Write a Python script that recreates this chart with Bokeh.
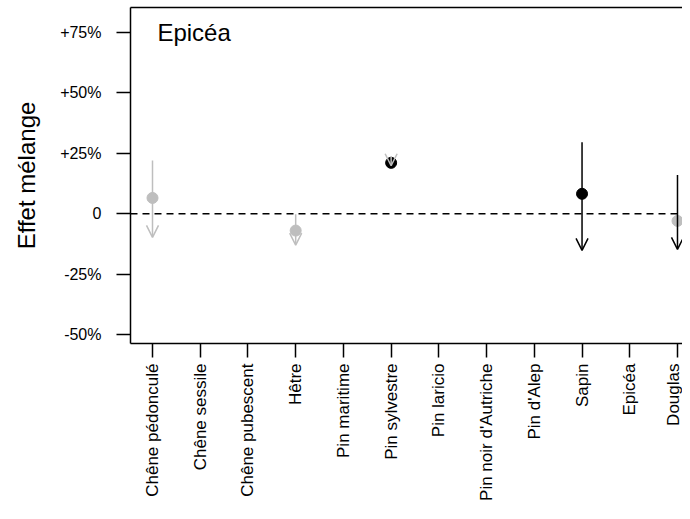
import math
from bokeh.plotting import figure
from bokeh.models import (ColumnDataSource, Range1d, FixedTicker, LinearAxis,
                          Span, Arrow, OpenHead, Label)
from bokeh.embed import file_html
from bokeh.resources import INLINE

FONT = "Liberation Sans"

categories = ["Chêne pédonculé", "Chêne sessile", "Chêne pubescent", "Hêtre",
              "Pin maritime", "Pin sylvestre", "Pin laricio", "Pin noir d'Autriche",
              "Pin d'Alep", "Sapin", "Epicéa", "Douglas"]

y_ticks = [-50, -25, 0, 25, 50, 75]
y_tick_labels = ["-50%", "-25%", "0", "+25%", "+50%", "+75%"]

# black series (None = not shown)
black_mean = [None, None, None, None, None, 21.0, None, None, None, 8.2, None, None]
black_upper = [None, None, None, None, None, None, None, None, None, 29.5, None, 16.0]
black_lower = [None, None, None, None, None, None, None, None, None, -15.2, None, -14.8]

# grey series
grey_mean = [6.5, None, None, -7.0, None, None, None, None, None, None, None, -3.0]
grey_upper = [22.0, None, None, -0.3, None, 23.8, None, None, None, None, None, None]
grey_lower = [-9.8, None, None, -13.0, None, 19.8, None, None, None, None, None, None]

title_text = "Epicéa"
y_label = "Effet mélange"

BLACK = "#000000"
GREY = "#bebebe"

p = figure(width=682, height=503, output_backend="svg", toolbar_location=None,
           x_range=Range1d(-0.461, 11.105), y_range=Range1d(-53.7, 85.25),
           x_axis_type=None, y_axis_type=None,
           min_border_left=130, min_border_right=0, min_border_top=7,
           min_border_bottom=157)
p.outline_line_color = None
p.background_fill_color = "white"
p.border_fill_color = "white"

yaxis = LinearAxis(ticker=FixedTicker(ticks=y_ticks),
                   major_label_overrides={t: l for t, l in zip(y_ticks, y_tick_labels)},
                   axis_label=y_label)
yaxis.major_tick_out = 14
yaxis.major_tick_in = 0
yaxis.minor_tick_out = 0
yaxis.minor_tick_in = 0
yaxis.major_label_standoff = 15
yaxis.axis_label_standoff = 17
yaxis.major_label_text_font = FONT
yaxis.major_label_text_font_size = "16px"
yaxis.major_label_text_color = "black"
yaxis.axis_label_text_font = FONT
yaxis.axis_label_text_font_size = "24px"
yaxis.axis_label_text_font_style = "normal"
yaxis.axis_label_text_color = "black"
yaxis.axis_line_width = 1.5
yaxis.major_tick_line_width = 1.5
p.add_layout(yaxis, "left")

xticks = list(range(len(categories)))
xaxis = LinearAxis(ticker=FixedTicker(ticks=xticks),
                   major_label_overrides={i: c for i, c in zip(xticks, categories)})
xaxis.major_label_orientation = math.pi / 2
xaxis.major_tick_out = 14
xaxis.major_tick_in = 0
xaxis.minor_tick_out = 0
xaxis.minor_tick_in = 0
xaxis.major_label_standoff = 6
xaxis.major_label_text_font = FONT
xaxis.major_label_text_font_size = "17px"
xaxis.major_label_text_color = "black"
xaxis.axis_line_width = 1.5
xaxis.major_tick_line_width = 1.5
p.add_layout(xaxis, "below")

top = LinearAxis(ticker=FixedTicker(ticks=[]))
top.major_tick_out = 0
top.major_tick_in = 0
top.minor_tick_out = 0
top.minor_tick_in = 0
top.major_label_text_font_size = "0px"
top.major_label_standoff = 0
top.axis_line_width = 1.5
p.add_layout(top, "above")

p.add_layout(Span(location=0, dimension="width", line_color="black",
                  line_dash="7 5", line_width=1.5))


def add_series(mean, upper, lower, color):
    ix = [i for i in range(len(categories)) if upper[i] is not None]
    src = ColumnDataSource(dict(x=ix, up=[upper[i] for i in ix], lo=[lower[i] for i in ix]))
    p.add_layout(Arrow(source=src, x_start="x", y_start="up", x_end="x", y_end="lo",
                       line_color=color, line_width=1.5,
                       end=OpenHead(size=12, line_color=color, line_width=1.5)))
    im = [i for i in range(len(categories)) if mean[i] is not None]
    p.scatter(x=im, y=[mean[i] for i in im], size=11, color=color)


add_series(black_mean, black_upper, black_lower, BLACK)
add_series(grey_mean, grey_upper, grey_lower, GREY)

p.add_layout(Label(x=0.103, y=75, text=title_text, text_font=FONT,
                   text_font_size="24px", text_baseline="middle", text_color="black"))

open("out.html", "w").write(file_html(p, INLINE))
